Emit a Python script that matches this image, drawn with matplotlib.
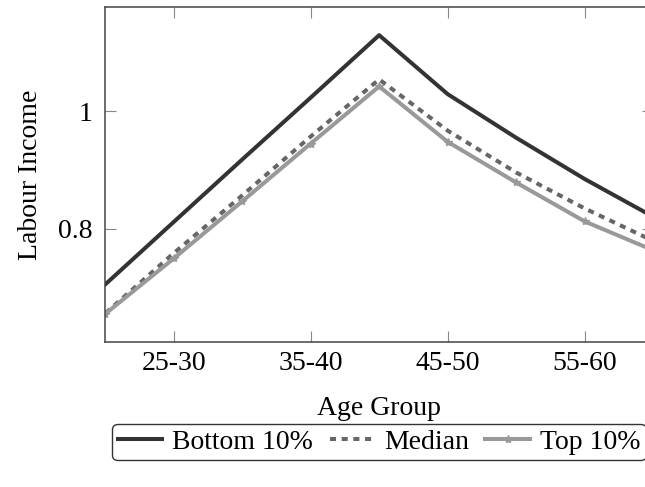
import numpy as np
import matplotlib.pyplot as plt

# age groups on the x axis
age_groups = ["20-25", "25-30", "30-35", "35-40", "40-45", "45-50", "50-55", "55-60", "60-65"]
tick_groups = ["25-30", "35-40", "45-50", "55-60"]

# labour income by age group
bottom10 = [0.706, 0.812, 0.918, 1.023, 1.129, 1.029, 0.955, 0.885, 0.821]
median = [0.657, 0.759, 0.857, 0.957, 1.054, 0.967, 0.896, 0.835, 0.780]
top10 = [0.656, 0.750, 0.847, 0.945, 1.042, 0.948, 0.879, 0.813, 0.764]

plt.rcParams["font.family"] = ["Liberation Serif", "DejaVu Serif"]

W, H = 645, 487
fig = plt.figure(figsize=(W / 100, H / 100), dpi=100)
ax = fig.add_axes([105.3 / W, 1 - 341.7 / H, (653 - 105.3) / W, (341.7 - 7.3) / H])

x = np.arange(len(age_groups))
lw = 2.9
ax.plot(x, bottom10, color="#333333", lw=lw, label="Bottom 10%")
ax.plot(x, median, color="#666666", lw=lw, ls=(0, (1.5, 1.4)), label="Median")
ax.plot(x, top10, color="#999999", lw=lw, marker="*", ms=6, label="Top 10%")

ax.set_xlim(0, len(age_groups) - 1)
allv = bottom10 + median + top10
lo, hi = min(allv), max(allv)
pad = 0.1 * (hi - lo)
ax.set_ylim(lo - pad, hi + pad)

ax.set_xticks([age_groups.index(g) for g in tick_groups])
ax.set_xticklabels(tick_groups)
ax.set_yticks([0.8, 1.0])
ax.set_yticklabels(["0.8", "1"])
ax.tick_params(direction="in", length=8, width=0.8, color="#888888",
               top=True, right=True, labelsize=20)
ax.tick_params(axis="x", pad=7)
ax.tick_params(axis="y", pad=9)
for s in ax.spines.values():
    s.set_color("#444444")
    s.set_linewidth(1.1)

ax.set_xlabel("Age Group", fontsize=20, labelpad=14)
ax.set_ylabel("Labour Income", fontsize=20, labelpad=11)

leg = fig.legend(loc="center", bbox_to_anchor=(379 / W, 1 - 442 / H), ncol=3,
                 fontsize=20, frameon=True, fancybox=True, handlelength=1.6,
                 handletextpad=0.35, columnspacing=0.6, borderpad=0.2,
                 borderaxespad=0)
leg.get_frame().set_edgecolor("#333333")
leg.get_frame().set_linewidth(1.0)
leg.get_frame().set_alpha(1)

fig.savefig("out.png", dpi=100)
